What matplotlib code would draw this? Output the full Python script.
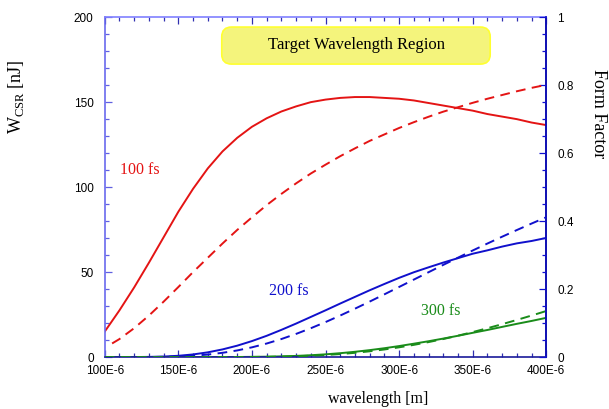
import matplotlib
matplotlib.use("Agg")
import matplotlib.pyplot as plt
from matplotlib.patches import FancyBboxPatch
from matplotlib.ticker import MultipleLocator, FuncFormatter

plt.rcParams['mathtext.fontset'] = 'custom'
plt.rcParams['mathtext.rm'] = 'Liberation Serif'

# wavelength in units of 1E-6 m
wavelength = list(range(100, 410, 10))

# radiated CSR energy [nJ] for each bunch length
w_100fs = [15, 27.5, 41, 55.5, 70.5, 85.5, 99, 111, 121, 129, 135.5, 140.5, 144.5,
           147.5, 150, 151.5, 152.5, 153, 153, 152.5, 152, 151, 149.5, 148, 146.5,
           145, 143, 141.5, 140, 138, 136.5]
w_200fs = [0, 0, 0, 0.1, 0.3, 0.75, 1.54, 2.78, 4.5, 6.7, 9.4, 12.5, 16.0, 19.7,
           23.6, 27.5, 31.5, 35.4, 39.3, 43.0, 46.6, 49.9, 52.8, 55.6, 58.2, 60.8,
           62.8, 65.0, 66.9, 68.3, 70.1]
w_300fs = [0, 0, 0, 0, 0, 0, 0, 0, 0.01, 0.04, 0.11, 0.22, 0.41, 0.68, 1.08, 1.60,
           2.28, 3.10, 4.08, 5.20, 6.47, 7.86, 9.31, 10.87, 12.52, 14.26, 15.94,
           17.75, 19.55, 21.25, 23.09]

# bunch form factors
ff_wavelength = [105] + wavelength[1:]
ff_100fs = [0.040, 0.053, 0.085, 0.122, 0.163, 0.206, 0.250, 0.292, 0.334, 0.374,
            0.411, 0.447, 0.480, 0.511, 0.540, 0.566, 0.591, 0.614, 0.636, 0.655,
            0.674, 0.691, 0.707, 0.722, 0.735, 0.748, 0.760, 0.771, 0.782, 0.792,
            0.801]
ff_200fs = [0, 0, 0, 0, 0.0007, 0.0018, 0.0039, 0.0073, 0.0125, 0.0195, 0.0286,
            0.0398, 0.0530, 0.0681, 0.0848, 0.1029, 0.1222, 0.1423, 0.1632, 0.1845,
            0.2062, 0.2279, 0.2496, 0.2712, 0.2924, 0.3135, 0.3340, 0.3541, 0.3737,
            0.3928, 0.4114]
ff_300fs = [0, 0, 0, 0, 0, 0, 0, 0, 0.00005, 0.00014, 0.00034, 0.0007, 0.00135,
            0.00237, 0.00388, 0.00599, 0.00882, 0.01245, 0.01693, 0.02231, 0.02863,
            0.03587, 0.04401, 0.05304, 0.0629, 0.0735, 0.0848, 0.09674, 0.1092,
            0.12215, 0.1355]

red = "#e41414"
blue = "#1010cc"
green = "#1a8c1a"

fig = plt.figure(figsize=(6.09, 4.09), dpi=100)
ax = fig.add_axes([0.172, 0.127, 0.725, 0.831])
ax2 = ax.twinx()

ax.plot(wavelength, w_100fs, color=red, lw=1.4)
ax.plot(wavelength, w_200fs, color=blue, lw=1.4)
ax.plot(wavelength, w_300fs, color=green, lw=1.4)

ax2.plot(ff_wavelength, ff_100fs, color=red, lw=1.4, dashes=(5, 3.3))
ax2.plot(wavelength, ff_200fs, color=blue, lw=1.4, dashes=(5, 3.3))
ax2.plot(wavelength, ff_300fs, color=green, lw=1.4, dashes=(5, 3.3))

ax.set_xlim(100, 400)
ax.set_ylim(0, 200)
ax2.set_ylim(0, 1)

ax.xaxis.set_major_locator(MultipleLocator(50))
ax.xaxis.set_minor_locator(MultipleLocator(10))
ax.xaxis.set_major_formatter(FuncFormatter(lambda v, p: f"{int(v)}E-6"))
ax.yaxis.set_major_locator(MultipleLocator(50))
ax.yaxis.set_minor_locator(MultipleLocator(10))
ax2.yaxis.set_major_locator(MultipleLocator(0.2))
ax2.yaxis.set_minor_locator(MultipleLocator(0.05))
ax2.yaxis.set_major_formatter(FuncFormatter(lambda v, p: f"{v:g}"))

tick_font = dict(labelsize=8.5, labelfontfamily="Liberation Sans")
ax.tick_params(axis="x", which="both", direction="in", top=True, colors="#3030b0",
               labelcolor="black", pad=6, **tick_font)
ax.tick_params(axis="y", which="both", direction="in", colors="#6060e0",
               labelcolor="black", pad=8, **tick_font)
ax2.tick_params(axis="y", which="both", direction="in", colors="#1010d0",
                labelcolor="black", pad=8, **tick_font)
for a in (ax, ax2):
    a.tick_params(which="major", length=5, width=0.9)
    a.tick_params(which="minor", length=3, width=0.9)

ax.spines["left"].set_color("#6a6aee")
ax.spines["top"].set_color("#8080ff")
ax.spines["bottom"].set_color("#1a1a9a")
ax2.spines["right"].set_color("#1010d0")
ax2.spines["left"].set_visible(False)
ax2.spines["top"].set_visible(False)
ax2.spines["bottom"].set_visible(False)
for s in list(ax.spines.values()) + list(ax2.spines.values()):
    s.set_linewidth(1.2)

ax.set_xlabel("wavelength [m]", fontsize=11.5, family="Liberation Serif")
ax.xaxis.set_label_coords(0.62, -0.1)
ax.set_ylabel(r"W$_{\mathrm{CSR}}$ [nJ]", fontsize=13, family="Liberation Serif")
ax.yaxis.set_label_coords(-0.178, 0.765)
ax2.set_ylabel("Form Factor", fontsize=13, family="Liberation Serif", rotation=-90)
ax2.yaxis.set_label_coords(1.138, 0.715)

ax.text(124, 110, "100 fs", color=red, fontsize=11.5, family="Liberation Serif",
        ha="center", va="center")
ax.text(225, 39, "200 fs", color=blue, fontsize=11.5, family="Liberation Serif",
        ha="center", va="center")
ax.text(328, 27, "300 fs", color=green, fontsize=11.5, family="Liberation Serif",
        ha="center", va="center")

# highlighted target region banner
box = FancyBboxPatch((0.265, 0.862), 0.608, 0.109, transform=ax2.transAxes,
                     boxstyle="round,pad=0,rounding_size=0.022", mutation_aspect=1.3,
                     facecolor="#f4f47c", edgecolor="#ffff30", lw=1.2, zorder=5)
ax2.add_patch(box)
ax2.text(0.57, 0.917, "Target Wavelength Region", transform=ax2.transAxes,
         fontsize=12, family="Liberation Serif", ha="center", va="center", zorder=6)

fig.savefig("out.png", dpi=100)
